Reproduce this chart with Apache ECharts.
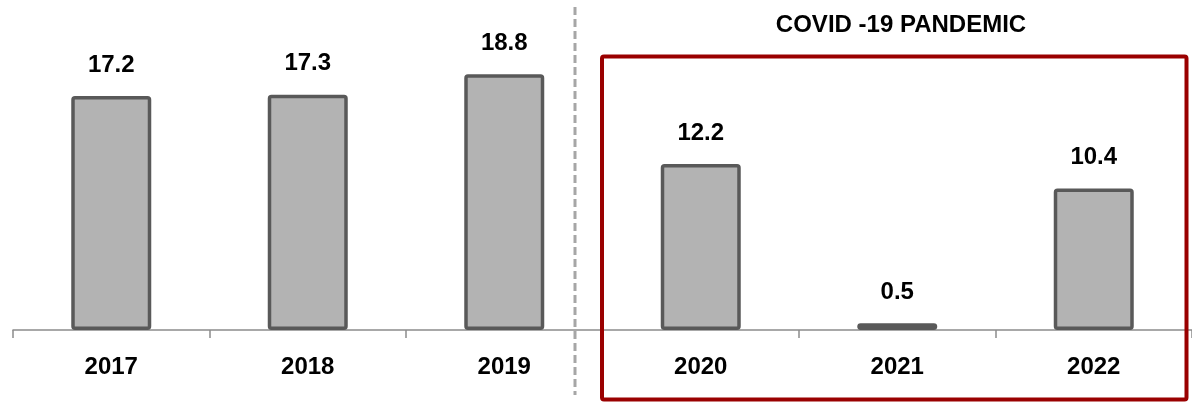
<!DOCTYPE html>
<html>
<head>
<meta charset="utf-8">
<script src="https://cdn.jsdelivr.net/npm/echarts@6/dist/echarts.min.js"></script>
<style>
  html, body { margin: 0; padding: 0; background: #fff; }
  #chart { width: 1192px; height: 404px; }
</style>
</head>
<body>
<div id="chart"></div>
<script>
const categories = ['2017', '2018', '2019', '2020', '2021', '2022'];
const values = [17.2, 17.3, 18.8, 12.2, 0.5, 10.4];
const annotationText = 'COVID -19 PANDEMIC';

const FONT = '"Liberation Sans", Arial, sans-serif';
const chart = echarts.init(document.getElementById('chart'), null, { renderer: 'canvas' });

chart.setOption({
  animation: false,
  backgroundColor: '#ffffff',
  grid: { left: 13, right: 0, top: 58, bottom: 74, containLabel: false },
  xAxis: {
    type: 'category',
    data: categories,
    boundaryGap: true,
    axisLine: { show: true, lineStyle: { color: '#8c8c8c', width: 1.5 } },
    axisTick: { show: true, alignWithLabel: false, length: 8, lineStyle: { color: '#8c8c8c', width: 1.5 } },
    axisLabel: { color: '#000', fontFamily: FONT, fontWeight: 'bold', fontSize: 24, margin: 25 }
  },
  yAxis: {
    type: 'value',
    min: 0,
    max: 20,
    show: false,
    splitLine: { show: false }
  },
  series: [{
    type: 'bar',
    data: values,
    barWidth: 80,
    itemStyle: { color: '#b3b3b3', borderColor: '#595959', borderWidth: 3.5, borderRadius: 2 },
    label: {
      show: true,
      position: 'top',
      distance: 19,
      color: '#000',
      fontFamily: FONT,
      fontWeight: 'bold',
      fontSize: 24,
      formatter: p => p.value.toFixed(1)
    }
  }],
  graphic: [
    {
      type: 'line',
      shape: { x1: 575, y1: 7, x2: 575, y2: 395 },
      style: { stroke: '#a6a6a6', lineWidth: 3, lineDash: [8, 4] },
      z: 10
    },
    {
      type: 'rect',
      shape: { x: 602, y: 56.5, width: 584.5, height: 343, r: 2 },
      style: { fill: 'none', stroke: '#9a0000', lineWidth: 4 },
      z: 10
    },
    {
      type: 'text',
      x: 901,
      y: 25,
      style: {
        text: annotationText,
        fill: '#000',
        font: 'bold 24px ' + FONT,
        textAlign: 'center',
        textVerticalAlign: 'middle'
      },
      z: 10
    }
  ]
});
</script>
</body>
</html>
